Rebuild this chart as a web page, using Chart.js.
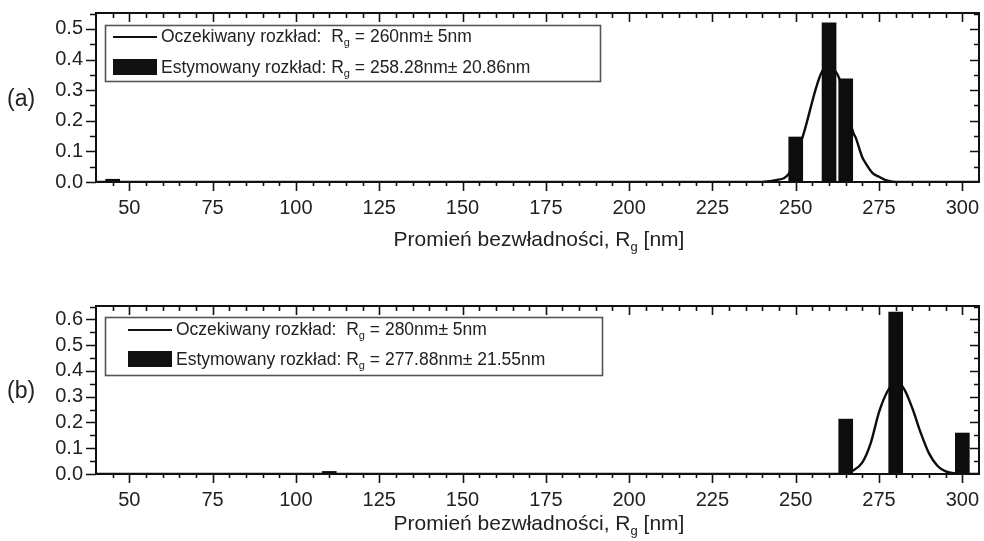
<!DOCTYPE html>
<html>
<head>
<meta charset="utf-8">
<script src="https://cdn.jsdelivr.net/npm/chart.js@4.4.0/dist/chart.umd.min.js"></script>
<style>
  html, body { margin: 0; padding: 0; background: #fff; }
  #wrap { position: relative; width: 984px; height: 541px; }
  canvas { position: absolute; left: 0; }
</style>
</head>
<body>
<div id="wrap">
  <canvas id="chartA" width="984" height="270" style="top:0"></canvas>
  <canvas id="chartB" width="984" height="271" style="top:270px"></canvas>
</div>
<script>
// Oś X (wspólna dla obu wykresów)
const xTicks = [50, 75, 100, 125, 150, 175, 200, 225, 250, 275, 300];
const yTicksA = [0, 0.1, 0.2, 0.3, 0.4, 0.5];
const yTicksB = [0, 0.1, 0.2, 0.3, 0.4, 0.5, 0.6];

// (a) estymowany rozkład - słupki
const barsAx = [45, 250, 260, 265];
const barsAy = [0.009, 0.147, 0.52, 0.337];
// (a) oczekiwany rozkład - krzywa
const curveAx = [40, 238, 244, 248, 252, 258, 260, 262, 263, 265, 267.3, 268, 270, 271, 273, 275, 277, 280, 305];
const curveAy = [0, 0, 0.006, 0.028, 0.145, 0.363, 0.375, 0.36, 0.34, 0.255, 0.16, 0.145, 0.08, 0.061, 0.03, 0.017, 0.006, 0, 0];

// (b) estymowany rozkład - słupki
const barsBx = [110, 265, 280, 300];
const barsBy = [0.01, 0.213, 0.628, 0.159];
// (b) oczekiwany rozkład - krzywa
const curveBx = [40, 263, 265, 267, 270, 272.5, 275, 277.5, 280, 282.5, 285, 287.5, 290, 292.5, 295, 298, 300, 305];
const curveBy = [0, 0, 0.003, 0.012, 0.045, 0.12, 0.24, 0.32, 0.36, 0.33, 0.255, 0.16, 0.08, 0.032, 0.01, 0.002, 0, 0];

// Teksty legendy i osi
const legendA = [
  ['Oczekiwany rozkład:  R', 'g', ' = 260nm\u00b1 5nm'],
  ['Estymowany rozkład: R', 'g', ' = 258.28nm\u00b1 20.86nm']
];
const legendB = [
  ['Oczekiwany rozkład:  R', 'g', ' = 280nm\u00b1 5nm'],
  ['Estymowany rozkład: R', 'g', ' = 277.88nm\u00b1 21.55nm']
];
const xTitle = ['Promień bezwładności, R', 'g', ' [nm]'];

const FONT = '"Liberation Sans", Arial, sans-serif';
const INK = '#111';

const zip = (xs, ys) => xs.map((x, i) => ({ x: x, y: ys[i] }));

// tekst z indeksem dolnym: [przed, indeks, po]
function drawSub(ctx, parts, x, y, size, align) {
  const subSize = Math.round(size * 0.6);
  ctx.font = size + 'px ' + FONT;
  const w0 = ctx.measureText(parts[0]).width;
  const w2 = ctx.measureText(parts[2]).width;
  ctx.font = subSize + 'px ' + FONT;
  const w1 = ctx.measureText(parts[1]).width;
  let sx = align === 'center' ? x - (w0 + w1 + w2) / 2 : x;
  ctx.textAlign = 'left';
  ctx.textBaseline = 'middle';
  ctx.font = size + 'px ' + FONT;
  ctx.fillText(parts[0], sx, y);
  ctx.font = subSize + 'px ' + FONT;
  ctx.fillText(parts[1], sx + w0, y + size * 0.35);
  ctx.font = size + 'px ' + FONT;
  ctx.fillText(parts[2], sx + w0 + w1, y);
}

// ramka, znaczniki osi, legenda i podpisy
const framePlugin = {
  id: 'frame',
  afterDraw(chart, args, o) {
    const { ctx, chartArea: a, scales: { x, y } } = chart;
    ctx.save();
    ctx.strokeStyle = INK;
    ctx.fillStyle = INK;

    // znaczniki X co 5 nm
    ctx.lineWidth = 1.6;
    ctx.beginPath();
    for (let v = 45; v < 305; v += 5) {
      const px = Math.round(x.getPixelForValue(v)) + 0.5;
      const major = v % 25 === 0;
      ctx.moveTo(px, a.bottom);
      ctx.lineTo(px, a.bottom + (major ? 9 : 4));
      ctx.moveTo(px, a.top);
      ctx.lineTo(px, a.top + (major ? 9 : 5));
    }
    // znaczniki Y co 0.05
    for (let i = 1; i * 0.05 < y.max - 0.001; i++) {
      const py = Math.round(y.getPixelForValue(i * 0.05)) + 0.5;
      const major = i % 2 === 0;
      ctx.moveTo(a.left, py);
      ctx.lineTo(a.left - (major ? 10 : 6), py);
      ctx.moveTo(a.right, py);
      ctx.lineTo(a.right - (major ? 9 : 5), py);
    }
    const p0 = Math.round(y.getPixelForValue(0)) + 0.5;
    ctx.moveTo(a.left, p0);
    ctx.lineTo(a.left - 10, p0);
    ctx.stroke();

    // ramka
    ctx.lineWidth = 2;
    ctx.strokeRect(a.left, a.top, a.right - a.left, a.bottom - a.top);

    // legenda
    const L = o.legend;
    ctx.fillStyle = '#fff';
    ctx.fillRect(L.x, L.y, L.w, L.h);
    ctx.strokeStyle = '#555';
    ctx.lineWidth = 1.6;
    ctx.strokeRect(L.x, L.y, L.w, L.h);
    ctx.strokeStyle = INK;
    ctx.fillStyle = INK;
    ctx.lineWidth = 2.2;
    ctx.beginPath();
    ctx.moveTo(L.sx, L.y1);
    ctx.lineTo(L.sx + 44, L.y1);
    ctx.stroke();
    ctx.fillRect(L.sx, L.y2 - 8, 44, 16);
    ctx.fillStyle = '#222';
    drawSub(ctx, L.items[0], L.sx + 48, L.y1, 17.5, 'left');
    drawSub(ctx, L.items[1], L.sx + 48, L.y2 + 1, 17.5, 'left');

    // tytuł osi X i oznaczenie panelu
    drawSub(ctx, xTitle, 539, o.titleY, 21, 'center');
    ctx.font = '23px ' + FONT;
    ctx.textAlign = 'left';
    ctx.textBaseline = 'middle';
    ctx.fillText(o.panel, 7, o.panelY);
    ctx.restore();
  }
};

function makeChart(id, c) {
  return new Chart(document.getElementById(id), {
    type: 'bar',
    data: {
      datasets: [
        {
          type: 'bar',
          data: zip(c.barsX, c.barsY),
          backgroundColor: '#0d0d0d',
          borderWidth: 0,
          barThickness: 14
        },
        {
          type: 'line',
          data: zip(c.curveX, c.curveY),
          borderColor: '#0d0d0d',
          borderWidth: 2.4,
          pointRadius: 0,
          cubicInterpolationMode: 'monotone',
          fill: false
        }
      ]
    },
    options: {
      responsive: false,
      animation: false,
      devicePixelRatio: 1,
      layout: { padding: { top: c.top, right: 5, bottom: 0, left: 0 } },
      plugins: {
        legend: { display: false },
        tooltip: { enabled: false },
        frame: {
          legend: c.legend,
          titleY: c.titleY,
          panel: c.panel,
          panelY: c.panelY
        }
      },
      scales: {
        x: {
          type: 'linear',
          min: 40,
          max: 305,
          offset: false,
          afterBuildTicks: s => { s.ticks = xTicks.map(v => ({ value: v })); },
          afterFit: s => { s.height = c.xHeight; s.paddingLeft = 0; s.paddingRight = 0; },
          grid: { display: false, drawTicks: false, offset: false },
          border: { display: false },
          ticks: {
            padding: 14,
            autoSkip: false,
            maxRotation: 0,
            color: '#222',
            font: { family: FONT, size: 20 }
          }
        },
        y: {
          type: 'linear',
          min: 0,
          max: c.yMax,
          afterBuildTicks: s => { s.ticks = c.yTicks.map(v => ({ value: v })); },
          afterFit: s => { s.width = 96; s.paddingTop = 0; s.paddingBottom = 0; },
          grid: { display: false, drawTicks: false },
          border: { display: false },
          ticks: {
            padding: 13,
            color: '#222',
            font: { family: FONT, size: 20 },
            callback: v => v.toFixed(1)
          }
        }
      }
    },
    plugins: [framePlugin]
  });
}

makeChart('chartA', {
  barsX: barsAx, barsY: barsAy,
  curveX: curveAx, curveY: curveAy,
  yTicks: yTicksA, yMax: 0.552,
  top: 13, xHeight: 88,
  titleY: 240, panel: '(a)', panelY: 100,
  legend: { x: 105.5, y: 25.5, w: 495, h: 56, sx: 113, y1: 37, y2: 67, items: legendA }
});

makeChart('chartB', {
  barsX: barsBx, barsY: barsBy,
  curveX: curveBx, curveY: curveBy,
  yTicks: yTicksB, yMax: 0.652,
  top: 36, xHeight: 67,
  titleY: 254, panel: '(b)', panelY: 122,
  legend: { x: 105.5, y: 47.5, w: 497, h: 58, sx: 128, y1: 60, y2: 89, items: legendB }
});
</script>
</body>
</html>
